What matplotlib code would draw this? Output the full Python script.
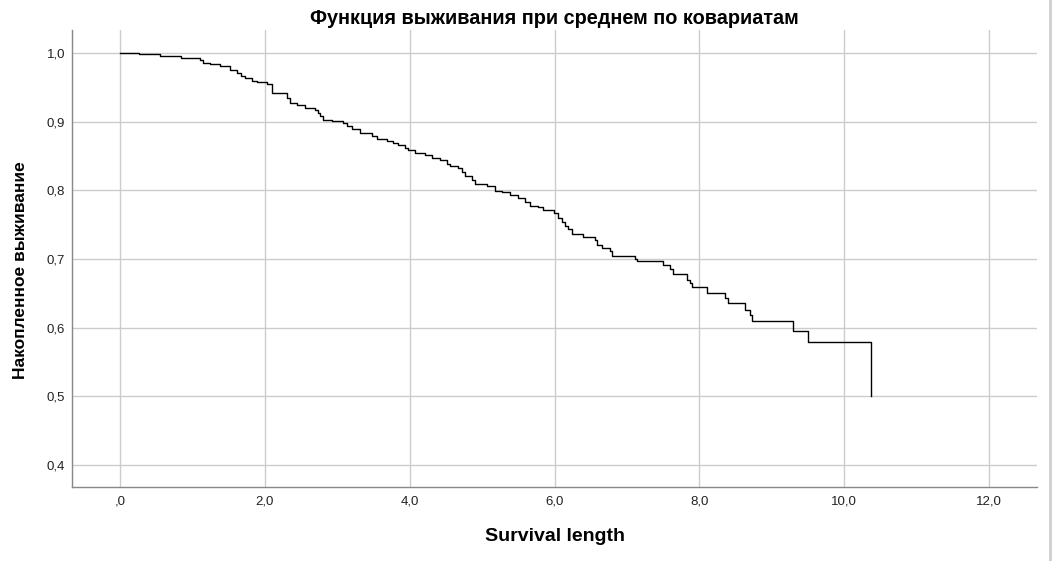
import matplotlib
matplotlib.use("Agg")
import matplotlib.pyplot as plt
from matplotlib.lines import Line2D

plt.rcParams['font.family'] = ['Liberation Sans', 'DejaVu Sans']

# Step-function data (time, cumulative survival after the event)
times = [0.0, 0.262, 0.552, 0.842, 1.105, 1.146, 1.243, 1.381, 1.519, 1.616,
         1.671, 1.726, 1.823, 1.892, 2.030, 2.099, 2.306, 2.347, 2.444, 2.555,
         2.693, 2.734, 2.762, 2.803, 2.927, 3.079, 3.134, 3.203, 3.314, 3.480,
         3.549, 3.687, 3.770, 3.839, 3.935, 3.977, 4.073, 4.212, 4.308, 4.419,
         4.515, 4.557, 4.667, 4.722, 4.764, 4.861, 4.902, 5.068, 5.178, 5.275,
         5.385, 5.496, 5.592, 5.661, 5.772, 5.841, 5.993, 6.048, 6.103, 6.145,
         6.186, 6.241, 6.393, 6.559, 6.587, 6.656, 6.766, 6.794, 7.111, 7.139,
         7.498, 7.595, 7.636, 7.830, 7.871, 7.898, 8.105, 8.354, 8.395, 8.630,
         8.699, 8.727, 9.293, 9.500, 10.370]
survival = [1.000, 0.998, 0.9956, 0.9927, 0.990, 0.986, 0.984, 0.981, 0.975, 0.971,
            0.967, 0.964, 0.959, 0.958, 0.955, 0.942, 0.935, 0.927, 0.924, 0.920,
            0.917, 0.913, 0.908, 0.902, 0.901, 0.898, 0.894, 0.889, 0.884, 0.879,
            0.875, 0.872, 0.869, 0.866, 0.862, 0.859, 0.855, 0.851, 0.847, 0.844,
            0.838, 0.835, 0.833, 0.827, 0.821, 0.815, 0.809, 0.806, 0.799, 0.798,
            0.793, 0.789, 0.783, 0.777, 0.776, 0.771, 0.767, 0.760, 0.754, 0.748,
            0.743, 0.736, 0.732, 0.728, 0.720, 0.716, 0.712, 0.704, 0.700, 0.697,
            0.691, 0.685, 0.678, 0.669, 0.665, 0.659, 0.651, 0.643, 0.636, 0.626,
            0.618, 0.610, 0.595, 0.579, 0.500]

x_ticks = [0, 2, 4, 6, 8, 10, 12]
x_tick_labels = [',0', '2,0', '4,0', '6,0', '8,0', '10,0', '12,0']
y_ticks = [0.4, 0.5, 0.6, 0.7, 0.8, 0.9, 1.0]
y_tick_labels = ['0,4', '0,5', '0,6', '0,7', '0,8', '0,9', '1,0']

title = 'Функция выживания при среднем по ковариатам'
x_label = 'Survival length'
y_label = 'Накопленное выживание'

fig = plt.figure(figsize=(10.53, 5.61), dpi=100)
ax = fig.add_axes([0.0684, 0.1319, 0.9164, 0.8146])

ax.step(times, survival, where='post', color='black', linewidth=1.0, zorder=3)

ax.set_xlim(-0.663, 12.66)
ax.set_ylim(0.368, 1.0335)
ax.set_xticks(x_ticks)
ax.set_xticklabels(x_tick_labels)
ax.set_yticks(y_ticks)
ax.set_yticklabels(y_tick_labels)
ax.tick_params(axis='both', length=0, labelsize=9.5, colors='#222222')
ax.tick_params(axis='x', pad=6)
ax.tick_params(axis='y', pad=5)

ax.grid(True, color='#cccccc', linewidth=1.0)
ax.set_axisbelow(True)
for s in ['top', 'right']:
    ax.spines[s].set_visible(False)
for s in ['left', 'bottom']:
    ax.spines[s].set_color('#888888')
    ax.spines[s].set_linewidth(1.0)

ax.set_title(title, fontsize=14.3, fontweight='bold', pad=4)
ax.set_xlabel(x_label, fontsize=14, fontweight='bold', labelpad=15)
ax.set_ylabel(y_label, fontsize=12.5, fontweight='bold')
ax.yaxis.set_label_coords(-0.046, 0.475)

fig.add_artist(Line2D([0.9975, 0.9975], [0, 1], transform=fig.transFigure,
                      color='#cfcfcf', linewidth=2))

fig.savefig('out.png', dpi=100)
